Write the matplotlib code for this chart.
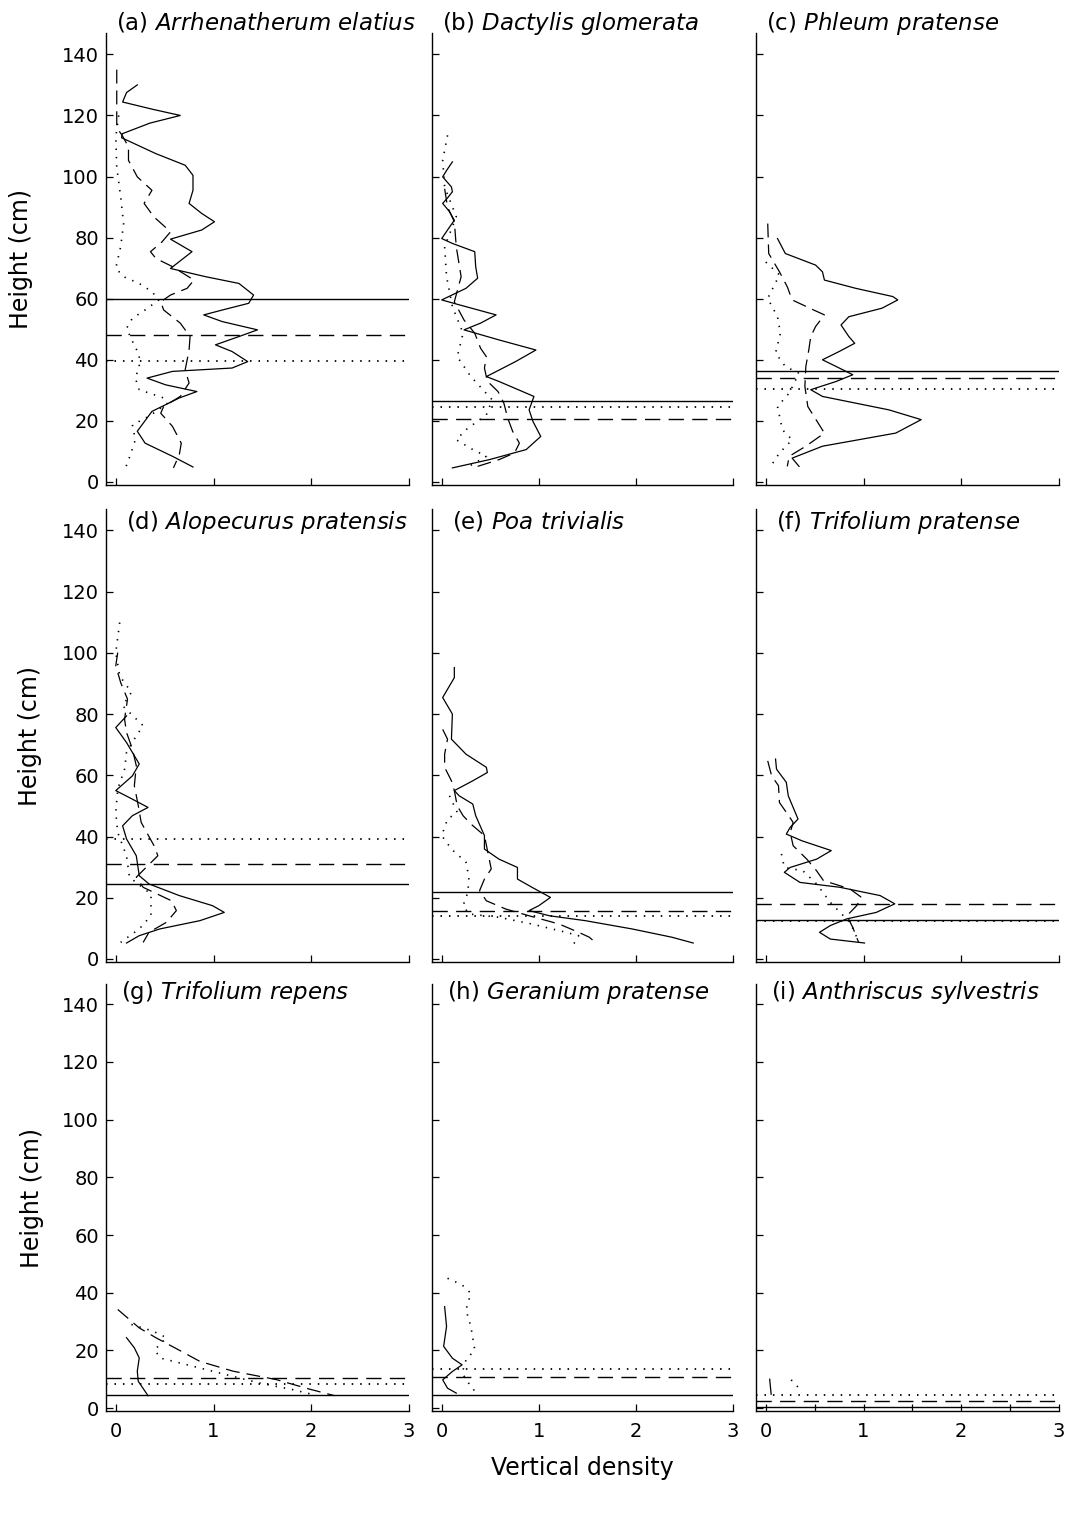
import matplotlib.pyplot as plt
from matplotlib.ticker import MultipleLocator

plt.rcParams['font.family'] = 'DejaVu Sans'
plt.rcParams['mathtext.fontset'] = 'dejavusans'
plt.rcParams['lines.scale_dashes'] = False

# ---- data: heights (cm) and vertical densities ----
letters = ['a', 'b', 'c', 'd', 'e', 'f', 'g', 'h', 'i']
species = ['Arrhenatherum elatius', 'Dactylis glomerata', 'Phleum pratense',
           'Alopecurus pratensis', 'Poa trivialis', 'Trifolium pratense',
           'Trifolium repens', 'Geranium pratense', 'Anthriscus sylvestris']

# mean heights (horizontal lines)
mean_solid = [60, 26.4, 36.4, 24.5, 21.8, 12.7, 4.5, 4.5, 0.4]
mean_dashed = [48, 20.7, 34.0, 31.0, 15.8, 17.9, 10.3, 10.7, 2.6]
mean_dotted = [39.5, 24.7, 30.5, 39.3, 13.9, 12.3, 8.3, 13.4, 4.6]

# (a) Arrhenatherum elatius
a_solid_h = [130, 127.5, 124.4, 122, 120, 117.5, 114, 112.7, 107.5, 103.7, 100.4, 95.5, 91.2, 87.9,
             85.2, 82.5, 79.5, 75.4, 69.9, 67.2, 65, 61.2, 58.5, 56.3, 54.7, 52.5, 49.8, 47.6,
             44.9, 42.7, 39.4, 37.3, 36.2, 34, 31.8, 29.6, 27.5, 23.1, 16.6, 12.7, 8.4, 4.9]
a_solid_d = [0.22, 0.11, 0.07, 0.38, 0.66, 0.35, 0.065, 0.06, 0.41, 0.71, 0.79, 0.79, 0.75, 0.88,
             1.01, 0.88, 0.56, 0.78, 0.56, 0.92, 1.26, 1.41, 1.36, 1.09, 0.9, 1.09, 1.45, 1.26,
             1.02, 1.19, 1.35, 1.19, 0.58, 0.32, 0.51, 0.83, 0.65, 0.37, 0.22, 0.30, 0.58, 0.79]
a_dashed_h = [135, 125, 116, 113.5, 109.7, 105.3, 99.9, 95.5, 91.2, 86.8, 81.9, 78.5, 75.4, 73.2,
              70.5, 66.1, 63.4, 61.2, 59, 56.3, 52, 47.6, 43.2, 36.7, 32.4, 28, 24.7, 22.5, 18.2,
              12.7, 8.9, 4.6]
a_dashed_d = [0.01, 0.01, 0.01, 0.065, 0.13, 0.13, 0.22, 0.37, 0.29, 0.39, 0.56, 0.47, 0.355, 0.41,
              0.58, 0.80, 0.73, 0.56, 0.46, 0.49, 0.66, 0.76, 0.75, 0.71, 0.75, 0.66, 0.49, 0.46, 0.58,
              0.67, 0.65, 0.59]
a_dotted_h = [120, 113, 103, 93.4, 84.6, 77, 70, 67.2, 65, 62.3, 59.6, 56.3, 53.6, 50.3, 45.4, 41.6,
              37.8, 34, 30.2, 27.5, 25.8, 21.5, 18.7, 13.8, 8.9, 4.6]
a_dotted_d = [0.03, 0.0, 0.01, 0.05, 0.08, 0.05, 0.0, 0.08, 0.24, 0.37, 0.44, 0.3, 0.17, 0.11, 0.18,
              0.24, 0.24, 0.2, 0.24, 0.49, 0.53, 0.34, 0.17, 0.2, 0.15, 0.1]

# (b) Dactylis glomerata
b_solid_h = [104.8, 102, 99.9, 96.6, 95, 93, 91.2, 88.5, 85.7, 82.5, 79.7, 78.1, 75.4, 70.5, 66.7,
             63.4, 59.6, 58, 54.7, 52, 49.8, 46.5, 43.2, 39.4, 34.5, 32.9, 28, 23.6, 19.8, 14.9,
             10.6, 7.3, 4.6]
b_solid_d = [0.11, 0.05, 0.01, 0.1, 0.11, 0.06, 0.01, 0.08, 0.13, 0.06, 0.0, 0.11, 0.34, 0.35, 0.37,
             0.25, 0.0, 0.18, 0.56, 0.4, 0.23, 0.59, 0.97, 0.76, 0.46, 0.59, 0.95, 0.9, 0.94, 1.02,
             0.87, 0.49, 0.11]
b_dashed_h = [96, 90, 85.2, 77, 67.2, 59, 53, 48.7, 43.8, 41, 37.3, 33, 29.6, 25.8, 20.9, 16.6,
              12.7, 9.5, 7.3, 5.1]
b_dashed_d = [0.03, 0.06, 0.13, 0.15, 0.2, 0.13, 0.23, 0.34, 0.4, 0.46, 0.44, 0.47, 0.58, 0.64,
              0.68, 0.73, 0.8, 0.75, 0.59, 0.37]
b_dotted_h = [113.5, 105.3, 96.6, 86.8, 77, 67.2, 57.4, 48.7, 41, 34.5, 26.9, 22, 17.1, 13.8, 10.6,
              8.4, 5.1]
b_dotted_d = [0.06, 0.01, 0.03, 0.15, 0.03, 0.05, 0.11, 0.22, 0.16, 0.3, 0.52, 0.46, 0.25, 0.15,
              0.32, 0.46, 0.28]

# (c) Phleum pratense
c_solid_h = [79.7, 74.8, 71, 68.8, 66.1, 63.4, 60.7, 59.6, 56.9, 54.1, 51.4, 47.6, 45.4, 42.7, 40,
             37.8, 35.1, 32.9, 30.2, 28, 23.6, 20.4, 16, 11.7, 7.8, 5.1]
c_solid_d = [0.12, 0.2, 0.51, 0.58, 0.6, 0.92, 1.30, 1.35, 1.19, 0.85, 0.77, 0.85, 0.91, 0.75, 0.58,
             0.72, 0.89, 0.72, 0.46, 0.58, 1.26, 1.59, 1.33, 0.58, 0.27, 0.34]
c_dashed_h = [84.6, 74.8, 68.8, 63.9, 59.6, 56.3, 54.7, 50.9, 47.6, 43.2, 37.8, 31.3, 24.7, 16,
              11.7, 8.4, 5.1]
c_dashed_d = [0.02, 0.03, 0.14, 0.22, 0.27, 0.49, 0.6, 0.51, 0.46, 0.44, 0.41, 0.40, 0.43, 0.6,
              0.41, 0.24, 0.22]
c_dotted_h = [72, 67.8, 60.1, 54.1, 48.7, 42.2, 37.8, 35.6, 29.1, 24.7, 17.1, 13.8, 9.5, 5.1]
c_dotted_d = [0.0, 0.14, 0.02, 0.12, 0.15, 0.1, 0.2, 0.34, 0.24, 0.12, 0.17, 0.27, 0.14, 0.05]

# (d) Alopecurus pratensis
d_solid_h = [79.4, 75.6, 70.7, 63.7, 59.8, 55, 52.2, 49.5, 46.8, 43.5, 39.2, 33.7, 27.2, 24.5, 20.7,
             17.4, 15.2, 12.5, 9.8, 7.6, 5.2]
d_solid_d = [0.11, 0.0, 0.11, 0.24, 0.17, 0.0, 0.17, 0.33, 0.17, 0.07, 0.11, 0.21, 0.24, 0.34, 0.65,
             0.99, 1.11, 0.86, 0.45, 0.24, 0.11]
d_dashed_h = [100.1, 95.8, 90.3, 84.9, 78.3, 74, 68.6, 63.1, 56.6, 50.1, 44.6, 36.5, 33.7, 29.9,
              26.7, 23.4, 19, 15.8, 12, 8.7, 5.4]
d_dashed_d = [0.02, 0.0, 0.05, 0.12, 0.09, 0.11, 0.17, 0.21, 0.19, 0.23, 0.26, 0.4, 0.43, 0.31,
              0.21, 0.28, 0.57, 0.62, 0.52, 0.34, 0.28]
d_dotted_h = [109.9, 100.1, 92.5, 87.1, 82.7, 76.2, 72.9, 67.5, 62, 55.5, 47.9, 41.3, 33.7, 26.7,
              21.2, 14.1, 9.8, 5.4]
d_dotted_d = [0.04, 0.0, 0.04, 0.16, 0.07, 0.28, 0.21, 0.11, 0.09, 0.02, 0.0, 0.02, 0.11, 0.14,
              0.36, 0.36, 0.24, 0.05]

# (e) Poa trivialis
e_solid_h = [95.2, 91.9, 85.4, 80, 71.8, 66.9, 62.6, 60.9, 58.2, 55, 53.3, 50.6, 46.8, 40.3, 35.9,
             32.6, 29.9, 26.1, 23.4, 20.1, 17.4, 15.8, 14.1, 12.5, 9.8, 7.1, 5.2]
e_solid_d = [0.13, 0.13, 0.01, 0.11, 0.1, 0.25, 0.46, 0.47, 0.32, 0.13, 0.18, 0.32, 0.35, 0.44, 0.44,
             0.59, 0.78, 0.78, 0.93, 1.12, 1.0, 0.9, 1.11, 1.48, 1.96, 2.37, 2.59]
e_dashed_h = [75, 71.8, 66.9, 62.6, 58.2, 55, 50, 46.8, 44.1, 40.3, 29.4, 26.1, 22.3, 19, 16.3, 14.1,
              11.4, 8.7, 7.1, 4.9]
e_dashed_d = [0.01, 0.06, 0.03, 0.03, 0.1, 0.13, 0.16, 0.22, 0.3, 0.44, 0.51, 0.44, 0.39, 0.46, 0.66,
              0.9, 1.21, 1.41, 1.52, 1.6]
e_dotted_h = [53.3, 47.9, 45.7, 40.3, 35.9, 31.6, 26.7, 21.8, 17.4, 14.7, 13.6, 11.4, 8.7, 7.6, 4.9]
e_dotted_d = [0.08, 0.16, 0.06, 0.0, 0.1, 0.25, 0.28, 0.27, 0.22, 0.28, 0.59, 0.93, 1.28, 1.41, 1.36]

# (f) Trifolium pratense
f_solid_h = [65.3, 62, 57.7, 53.3, 45.7, 43, 40.8, 38.6, 35.4, 32.6, 29.9, 28.3, 25, 23.4, 20.7, 18,
             15.2, 13.1, 10.9, 8.7, 6.5, 5.2]
f_solid_d = [0.10, 0.11, 0.21, 0.23, 0.33, 0.25, 0.21, 0.37, 0.67, 0.52, 0.25, 0.19, 0.35, 0.76, 1.17,
             1.32, 1.13, 0.83, 0.66, 0.55, 0.66, 1.01]
f_dashed_h = [64.7, 59.8, 56.6, 51.1, 47.9, 44.6, 41.3, 37, 32.6, 28.8, 25.6, 22.9, 20.1, 17.4, 14.1,
              10.3, 5.4]
f_dashed_d = [0.02, 0.06, 0.13, 0.14, 0.21, 0.28, 0.25, 0.28, 0.42, 0.52, 0.59, 0.86, 0.98, 0.93,
              0.83, 0.89, 0.95]
f_dotted_h = [34.3, 29.9, 28.8, 24.5, 18.5, 15.2, 12, 8.7, 5.4]
f_dotted_d = [0.16, 0.19, 0.38, 0.52, 0.66, 0.76, 0.86, 0.91, 0.95]

# (g) Trifolium repens
g_solid_h = [24.4, 20.9, 17.4, 12.8, 9.3, 4.3]
g_solid_d = [0.11, 0.19, 0.24, 0.22, 0.23, 0.33]
g_dashed_h = [34.2, 27.8, 24.4, 19.7, 16.2, 12.8, 9.9, 6.6, 4.3]
g_dashed_d = [0.02, 0.24, 0.41, 0.67, 0.86, 1.2, 1.64, 1.98, 2.24]
g_dotted_h = [29, 26.7, 24.4, 20.3, 17.4, 15.1, 11.6, 8.7, 6.4, 4.6]
g_dotted_d = [0.16, 0.38, 0.52, 0.4, 0.45, 0.72, 1.13, 1.47, 1.81, 2.03]

# (h) Geranium pratense
h_solid_h = [35.2, 28.3, 21.4, 17.3, 15, 12.7, 9.8, 6.9, 5.2]
h_solid_d = [0.03, 0.05, 0.02, 0.11, 0.21, 0.11, 0.01, 0.06, 0.15]
h_dotted_h = [45, 42.7, 39.8, 34.1, 28.3, 20.2, 16.7, 12.1, 7.5, 5.2]
h_dotted_d = [0.06, 0.21, 0.3, 0.25, 0.3, 0.34, 0.25, 0.21, 0.3, 0.36]

# (i) Anthriscus sylvestris
i_solid_h = [10, 4.8]
i_solid_d = [0.04, 0.055]
i_dotted_h = [9.8, 6.9, 5.2]
i_dotted_d = [0.26, 0.34, 0.36]

solid_curves = [(a_solid_h, a_solid_d), (b_solid_h, b_solid_d), (c_solid_h, c_solid_d),
                (d_solid_h, d_solid_d), (e_solid_h, e_solid_d), (f_solid_h, f_solid_d),
                (g_solid_h, g_solid_d), (h_solid_h, h_solid_d), (i_solid_h, i_solid_d)]
dashed_curves = [(a_dashed_h, a_dashed_d), (b_dashed_h, b_dashed_d), (c_dashed_h, c_dashed_d),
                 (d_dashed_h, d_dashed_d), (e_dashed_h, e_dashed_d), (f_dashed_h, f_dashed_d),
                 (g_dashed_h, g_dashed_d), None, None]
dotted_curves = [(a_dotted_h, a_dotted_d), (b_dotted_h, b_dotted_d), (c_dotted_h, c_dotted_d),
                 (d_dotted_h, d_dotted_d), (e_dotted_h, e_dotted_d), (f_dotted_h, f_dotted_d),
                 (g_dotted_h, g_dotted_d), (h_dotted_h, h_dotted_d), (i_dotted_h, i_dotted_d)]

# ---- layout (pixels) ----
W, H = 1069, 1515
col_left = [106, 432, 756]
col_right = [409, 733, 1059]
row_top = [33, 509, 984]
row_bottom = [485, 962, 1411]
title_base = [30, 529, 999]     # baseline of panel titles
title_shift = [0, 10, 5]        # title start right of x=0
ylabel_right = [33, 42, 44]     # right edge of "Height (cm)"

ls_solid = '-'
ls_dashed = (0, (10, 5))
ls_dotted = (0, (1, 5))

fig = plt.figure(figsize=(W / 100, H / 100), dpi=100)

for i in range(9):
    row = i // 3
    col = i % 3
    l, r = col_left[col], col_right[col]
    t, b = row_top[row], row_bottom[row]
    ax = fig.add_axes([l / W, 1 - b / H, (r - l) / W, (b - t) / H])

    hs, ds = solid_curves[i]
    ax.plot(ds, hs, color='black', lw=0.9, linestyle=ls_solid)
    if dashed_curves[i] is not None:
        hs, ds = dashed_curves[i]
        ax.plot(ds, hs, color='black', lw=0.9, linestyle=ls_dashed)
    hs, ds = dotted_curves[i]
    ax.plot(ds, hs, color='black', lw=1.2, linestyle=ls_dotted)

    ax.axhline(mean_solid[i], color='black', lw=1.0, linestyle=ls_solid)
    ax.axhline(mean_dashed[i], color='black', lw=1.0, linestyle=(0, (11, 6)))
    ax.axhline(mean_dotted[i], color='black', lw=1.3, linestyle=(0, (1.1, 5)))

    ax.set_xlim(-0.1, 3.0)
    ax.set_ylim(-1, 147)
    ax.set_xticks([0, 1, 2, 3])
    ax.set_yticks(range(0, 141, 20))
    ax.spines['top'].set_visible(False)
    ax.spines['right'].set_visible(False)
    for s in ['left', 'bottom']:
        ax.spines[s].set_linewidth(1.0)
    ax.tick_params(direction='in', length=5, width=0.9, labelsize=14)
    ax.tick_params(axis='x', pad=8)
    ax.tick_params(axis='y', pad=5)
    if i == 8:
        ax.xaxis.set_minor_locator(MultipleLocator(0.5))
        ax.tick_params(which='minor', direction='in', length=5, width=0.9)

    if col == 0:
        ax.set_ylabel('Height (cm)', fontsize=17)
        ax.yaxis.set_label_coords((ylabel_right[row] - l) / (r - l), 0.5)
    else:
        ax.tick_params(axis='y', labelleft=False)
    if row < 2:
        ax.tick_params(axis='x', labelbottom=False)
    if i == 7:
        ax.set_xlabel('Vertical density', fontsize=17)
        ax.xaxis.set_label_coords(0.5, (b - 1456) / (b - t))

    # panel title: letter upright, species italic
    x0 = l + (0.1 / 3.1) * (r - l) + title_shift[row]
    name = species[i].replace(' ', r'\ ')
    fig.text(x0 / W, 1 - title_base[row] / H, f'({letters[i]}) $\\it{{{name}}}$',
             fontsize=16.5, ha='left', va='baseline')

plt.savefig('out.png', dpi=100)
